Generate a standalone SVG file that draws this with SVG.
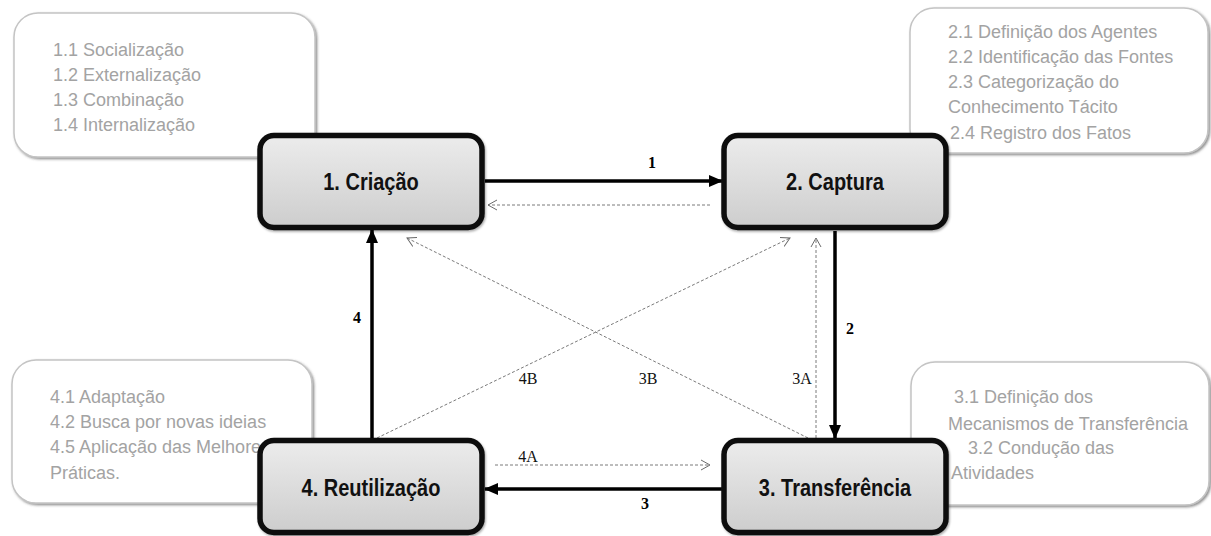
<svg xmlns="http://www.w3.org/2000/svg" width="1211" height="536" viewBox="0 0 1211 536">
  <style>
    .note rect { fill: #ffffff; stroke: #c4c4c4; stroke-width: 1.5; filter: url(#soft); }
    .note text { font-family: "Liberation Sans", Arial, sans-serif; font-size: 18px; fill: #a3a3a3; }
    .node rect { fill: url(#nodeFill); stroke: #0d0d0d; stroke-width: 5.5; filter: url(#lift); }
    .node text { font-family: "Liberation Sans", Arial, sans-serif; font-size: 20px; font-weight: bold; fill: #111; text-anchor: middle; }
    .main { stroke: #000; stroke-width: 3.5; fill: none; }
    .alt { stroke: #7a7a7a; stroke-width: 1; stroke-dasharray: 3 2; fill: none; }
    .num { font-family: "Liberation Serif", "Times New Roman", serif; font-size: 16px; font-weight: bold; fill: #000; text-anchor: middle; }
    .alt-label { font-family: "Liberation Serif", "Times New Roman", serif; font-size: 16px; fill: #111; text-anchor: middle; }
  </style>
  <defs>
    <linearGradient id="nodeFill" x1="0" y1="0" x2="0" y2="1">
      <stop offset="0" stop-color="#ececec"/>
      <stop offset="1" stop-color="#cdcdcd"/>
    </linearGradient>
    <filter id="soft" x="-5%" y="-5%" width="112%" height="115%">
      <feDropShadow dx="1.5" dy="1.5" stdDeviation="1" flood-color="#444" flood-opacity="0.6"/>
    </filter>
    <filter id="lift" x="-5%" y="-5%" width="112%" height="115%">
      <feDropShadow dx="1" dy="1.5" stdDeviation="1" flood-color="#000" flood-opacity="0.35"/>
    </filter>
    <marker id="solidHead" markerUnits="userSpaceOnUse" markerWidth="14" markerHeight="12" refX="13" refY="6" orient="auto">
      <path d="M0,0 L14,6 L0,12 Z" fill="#000"/>
    </marker>
    <marker id="openHead" markerUnits="userSpaceOnUse" markerWidth="10" markerHeight="12" refX="9" refY="6" orient="auto">
      <path d="M0,1 L9,6 L0,11" fill="none" stroke="#6a6a6a" stroke-width="1"/>
    </marker>
  </defs>

  <!-- activity notes -->
  <g id="note-criacao" class="note">
    <rect x="14" y="13" width="301" height="144" rx="24"/>
    <text x="53" y="56">1.1 Socialização</text>
    <text x="53" y="81">1.2 Externalização</text>
    <text x="53" y="106">1.3 Combinação</text>
    <text x="53" y="131">1.4 Internalização</text>
  </g>
  <g id="note-captura" class="note">
    <rect x="910" y="8" width="298" height="145" rx="24"/>
    <text x="948" y="38">2.1 Definição dos Agentes</text>
    <text x="948" y="63">2.2 Identificação das Fontes</text>
    <text x="948" y="88">2.3 Categorização do</text>
    <text x="948" y="113">Conhecimento Tácito</text>
    <text x="950" y="139">2.4 Registro dos Fatos</text>
  </g>
  <g id="note-transferencia" class="note">
    <rect x="911" y="362" width="298" height="143" rx="24"/>
    <text x="954" y="403">3.1 Definição dos</text>
    <text x="948" y="430">Mecanismos de Transferência</text>
    <text x="968" y="454">3.2 Condução das</text>
    <text x="951" y="479">Atividades</text>
  </g>
  <g id="note-reutilizacao" class="note">
    <rect x="12" y="360" width="300" height="143" rx="24"/>
    <text x="50" y="403">4.1 Adaptação</text>
    <text x="50" y="428">4.2 Busca por novas ideias</text>
    <text x="50" y="453">4.5 Aplicação das Melhores</text>
    <text x="50" y="479">Práticas.</text>
  </g>

  <!-- flows between stages -->
  <g id="connectors">
    <line class="main" x1="485" y1="181" x2="722" y2="181" marker-end="url(#solidHead)"/>
    <line class="main" x1="835" y1="231" x2="835" y2="438" marker-end="url(#solidHead)"/>
    <line class="main" x1="722" y1="489" x2="485" y2="489" marker-end="url(#solidHead)"/>
    <line class="main" x1="372" y1="438" x2="372" y2="230" marker-end="url(#solidHead)"/>

    <line class="alt" x1="710" y1="205" x2="488" y2="205" marker-end="url(#openHead)"/>
    <line class="alt" x1="816" y1="438" x2="816" y2="238" marker-end="url(#openHead)"/>
    <line class="alt" x1="808" y1="438" x2="407" y2="238" marker-end="url(#openHead)"/>
    <line class="alt" x1="377" y1="438" x2="790" y2="238" marker-end="url(#openHead)"/>
    <line class="alt" x1="495" y1="465" x2="710" y2="465" marker-end="url(#openHead)"/>

    <text class="num" x="652" y="168">1</text>
    <text class="num" x="850" y="334">2</text>
    <text class="num" x="645" y="509">3</text>
    <text class="num" x="357" y="323">4</text>
    <text class="alt-label" x="528" y="462">4A</text>
    <text class="alt-label" x="528" y="384">4B</text>
    <text class="alt-label" x="648" y="384">3B</text>
    <text class="alt-label" x="802" y="384">3A</text>
  </g>

  <!-- stages (labels slightly condensed-tall) -->
  <g id="criacao" class="node">
    <rect x="260" y="135.5" width="222" height="92" rx="14"/>
    <text transform="translate(371,190) scale(1,1.15)">1. Criação</text>
  </g>
  <g id="captura" class="node">
    <rect x="724" y="135.5" width="222" height="92" rx="14"/>
    <text transform="translate(835,190) scale(1,1.15)">2. Captura</text>
  </g>
  <g id="transferencia" class="node">
    <rect x="724" y="440.5" width="222" height="92" rx="14"/>
    <text transform="translate(835,496) scale(1,1.15)">3. Transferência</text>
  </g>
  <g id="reutilizacao" class="node">
    <rect x="260" y="440.5" width="222" height="92" rx="14"/>
    <text transform="translate(371,496) scale(1,1.15)">4. Reutilização</text>
  </g>
</svg>
